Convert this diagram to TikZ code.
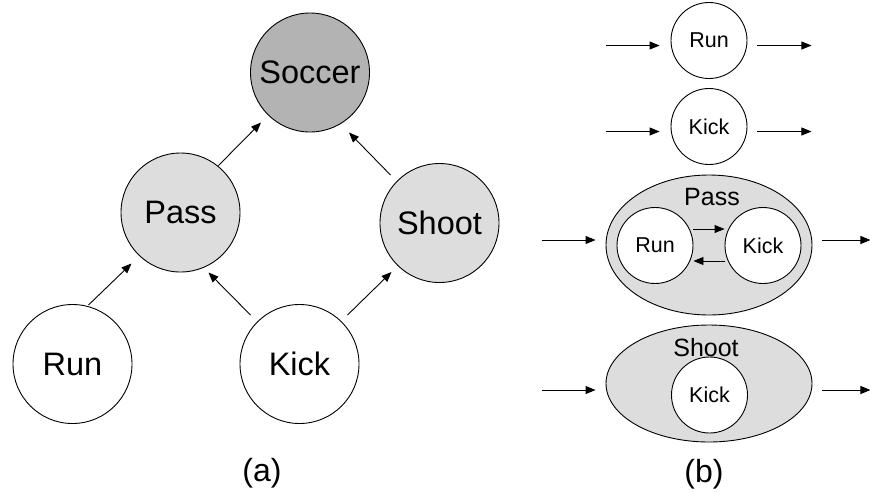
\documentclass[tikz,border=0pt]{standalone}
\usepackage{fontspec}
\setmainfont{Liberation Sans}
\usetikzlibrary{arrows.meta,calc,shapes.geometric}
\definecolor{darkfill}{HTML}{B3B3B3}
\definecolor{lightfill}{HTML}{DDDDDD}
\tikzset{
  bigc/.style={circle,draw,line width=0.9pt,minimum size=119pt,inner sep=0pt,font=\fontsize{32.5}{39}\selectfont},
  smallc/.style={circle,draw,fill=white,line width=0.9pt,minimum size=76pt,inner sep=0pt,font=\fontsize{21.5}{26}\selectfont},
  ell/.style={ellipse,draw,fill=lightfill,line width=0.9pt,inner sep=0pt},
  lbl/.style={inner sep=0pt,font=\fontsize{25}{30}\selectfont},
  captext/.style={inner sep=0pt,font=\fontsize{32}{38}\selectfont},
  arr/.style={line width=0.9pt,-{Triangle[length=10pt,width=8pt]}}
}
\begin{document}
\begin{tikzpicture}[x=1pt,y=1pt]
\useasboundingbox (0,0) rectangle (870,-491);
% (a)
\node[bigc,fill=darkfill] (soccer) at (310,-72.5) {Soccer};
\node[bigc,fill=lightfill] (pass) at (180.5,-212.5) {Pass};
\node[bigc,fill=lightfill] (shoot) at (439.5,-223) {Shoot};
\node[bigc,fill=white] (run) at (72.5,-364) {Run};
\node[bigc,fill=white] (kick) at (299.5,-364) {Kick};
\draw[arr] ($(pass)+(38,47)$) -- ($(soccer)+(-49,-50)$);
\draw[arr] ($(shoot)+(-49,48)$) -- ($(soccer)+(39,-60)$);
\draw[arr] ($(run)+(16,59)$) -- ($(pass)+(-49,-51)$);
\draw[arr] ($(kick)+(-49,49)$) -- ($(pass)+(28,-60)$);
\draw[arr] ($(kick)+(48,49)$) -- ($(shoot)+(-48,-49)$);
\node[captext] (capa) at (262,-473) {(a)};
% (b)
\node[smallc] (rb) at (709,-40.5) {Run};
\draw[arr] ($(rb.west)+(-65,-5)$) -- ($(rb.west)+(-11,-5)$);
\draw[arr] ($(rb.east)+(10,-5)$) -- ($(rb.east)+(64,-5)$);
\node[smallc] (kb) at (709,-126.5) {Kick};
\draw[arr] ($(kb.west)+(-65,-5)$) -- ($(kb.west)+(-11,-5)$);
\draw[arr] ($(kb.east)+(10,-5)$) -- ($(kb.east)+(64,-5)$);
% Pass ellipse
\node[ell,minimum width=206pt,minimum height=140pt] (pe) at (709,-245) {};
\node[lbl] (pl) at (712,-197) {Pass};
\node[smallc] (pr) at (655,-245.5) {Run};
\node[smallc] (pk) at (763,-245.5) {Kick};
\draw[arr] ($(pr.east)+(0,16.5)$) -- ($(pk.west)+(0,16.5)$);
\draw[arr] ($(pk.west)+(0,-15.5)$) -- ($(pr.east)+(0,-15.5)$);
\draw[arr] ($(pe.west)+(-64,5)$) -- ($(pe.west)+(-10,5)$);
\draw[arr] ($(pe.east)+(10,5)$) -- ($(pe.east)+(58,5)$);
% Shoot ellipse
\node[ell,minimum width=206pt,minimum height=117pt] (se) at (709,-383.5) {};
\node[lbl] (sl) at (706,-348) {Shoot};
\node[smallc] (sk) at (709.5,-395) {Kick};
\draw[arr] ($(se.west)+(-64,-6.5)$) -- ($(se.west)+(-10,-6.5)$);
\draw[arr] ($(se.east)+(10,-6.5)$) -- ($(se.east)+(58,-6.5)$);
\node[captext] (capb) at (704,-474) {(b)};
\end{tikzpicture}
\end{document}
